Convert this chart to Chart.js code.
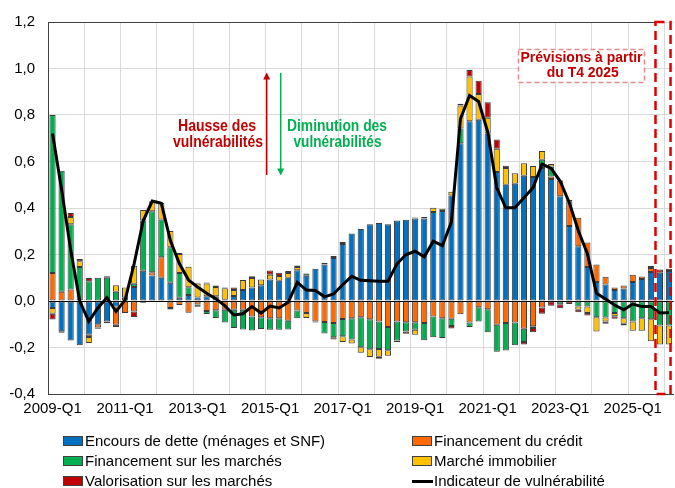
<!DOCTYPE html>
<html lang="fr">
<head>
<meta charset="utf-8">
<script src="https://cdn.jsdelivr.net/npm/chart.js@4.4.1/dist/chart.umd.min.js"></script>
<style>
  body { margin: 0; background: #fff; }
  #wrap { position: relative; width: 675px; height: 488px; font-family: 'Liberation Sans', Arial, sans-serif; }
  #chart { position: absolute; left: 0; top: 0; }
  .leg { position: absolute; font-size: 15px; color: #000; white-space: nowrap; line-height: 18px; }
  .leg .box { position: absolute; left: -22px; top: 4px; width: 18px; height: 8px; border: 1px solid #404040; }
  .leg .ln { position: absolute; left: -22px; top: 8px; width: 21px; height: 3px; background: #000; }
</style>
</head>
<body>
<div id="wrap">
  <canvas id="chart" width="675" height="488"></canvas>
  <div class="leg" style="left:85px;top:432px"><span class="box" style="background:#0070c0"></span>Encours de dette (ménages et SNF)</div>
  <div class="leg" style="left:434px;top:432px"><span class="box" style="background:#ff6a00"></span>Financement du crédit</div>
  <div class="leg" style="left:85px;top:452px"><span class="box" style="background:#00b050"></span>Financement sur les marchés</div>
  <div class="leg" style="left:434px;top:452px"><span class="box" style="background:#ffc000"></span>Marché immobilier</div>
  <div class="leg" style="left:85px;top:472px"><span class="box" style="background:#c00000"></span>Valorisation sur les marchés</div>
  <div class="leg" style="left:434px;top:472px"><span class="ln"></span>Indicateur de vulnérabilité</div>
</div>
<script>
const quarters = [
  '2009-Q1', '2009-Q2', '2009-Q3', '2009-Q4',
  '2010-Q1', '2010-Q2', '2010-Q3', '2010-Q4',
  '2011-Q1', '2011-Q2', '2011-Q3', '2011-Q4',
  '2012-Q1', '2012-Q2', '2012-Q3', '2012-Q4',
  '2013-Q1', '2013-Q2', '2013-Q3', '2013-Q4',
  '2014-Q1', '2014-Q2', '2014-Q3', '2014-Q4',
  '2015-Q1', '2015-Q2', '2015-Q3', '2015-Q4',
  '2016-Q1', '2016-Q2', '2016-Q3', '2016-Q4',
  '2017-Q1', '2017-Q2', '2017-Q3', '2017-Q4',
  '2018-Q1', '2018-Q2', '2018-Q3', '2018-Q4',
  '2019-Q1', '2019-Q2', '2019-Q3', '2019-Q4',
  '2020-Q1', '2020-Q2', '2020-Q3', '2020-Q4',
  '2021-Q1', '2021-Q2', '2021-Q3', '2021-Q4',
  '2022-Q1', '2022-Q2', '2022-Q3', '2022-Q4',
  '2023-Q1', '2023-Q2', '2023-Q3', '2023-Q4',
  '2024-Q1', '2024-Q2', '2024-Q3', '2024-Q4',
  '2025-Q1', '2025-Q2', '2025-Q3', '2025-Q4',
  '2026-Q1'
];

const encours = [
  -0.03, -0.13, -0.17, -0.19, -0.145, -0.10, -0.088, -0.024,
  0, 0.06, 0.13, 0.11, 0.10, 0.078, 0.014, 0.026,
  0.015, 0.02, 0.02, 0.005, 0.021, 0.047, 0.058, 0.068,
  0.092, 0.087, 0.10, 0.132, 0.109, 0.139, 0.157, 0.185,
  0.245, 0.29, 0.31, 0.33, 0.335, 0.33, 0.346, 0.349,
  0.355, 0.355, 0.383, 0.387, 0.454, 0.678, 0.773, 0.78,
  0.72, 0.555, 0.50, 0.504, 0.539, 0.533, 0.572, 0.525,
  0.451, 0.323, 0.235, 0.146, 0.082, 0.071, 0.047, 0.054,
  0.082, 0.095, 0.125, 0.122, 0.129
];

const credit = [
  0.12, 0.04, 0.05, 0, -0.01, -0.014, 0, -0.078,
  -0.052, -0.045, 0, 0.014, 0.088, -0.03, -0.017, -0.05,
  -0.015, -0.043, -0.04, -0.038, -0.038, -0.038, -0.067, -0.07,
  -0.074, -0.074, -0.085, -0.041, -0.052, -0.088, -0.09, -0.095,
  -0.077, -0.074, -0.07, -0.078, -0.088, -0.112, -0.088, -0.091,
  -0.091, -0.095, -0.067, -0.074, -0.076, -0.057, -0.092, -0.027,
  -0.035, -0.102, -0.095, -0.092, -0.119, -0.109, -0.028, 0.011,
  0.067, 0.106, 0.123, 0.106, 0.075, 0.033, 0.011, 0.013,
  0.031, 0.01, 0.017, 0, 0
];

const marches = [
  0.68, 0.52, 0.28, 0.146, 0.085, 0.10, 0.10, 0.04,
  0.014, 0.014, 0.216, 0.262, 0.163, 0.153, 0.106, 0.033,
  -0.01, -0.013, -0.033, -0.054, -0.078, -0.085, -0.06, -0.05,
  -0.05, -0.05, -0.038, -0.033, 0.009, -0.004, -0.05, -0.061,
  -0.075, -0.092, -0.129, -0.13, -0.118, -0.10, -0.082, -0.04,
  -0.033, -0.074, -0.089, -0.085, -0.031, 0.064, -0.02, -0.061,
  -0.099, -0.116, -0.118, -0.098, -0.057, -0.007, 0.035, 0.043,
  -0.014, 0, -0.024, -0.024, -0.07, -0.071, -0.052, -0.074,
  -0.088, -0.074, -0.078, -0.105, -0.105
];

const immobilier = [
  -0.025, 0, 0.031, 0.025, -0.026, 0, 0.006, 0.028,
  0.044, 0.078, 0.045, 0.043, 0.07, 0.07, 0.082, 0.088,
  0.06, 0.055, 0.04, 0.05, 0.026, 0.043, 0.041, 0.024,
  0.021, 0.02, 0.02, 0.014, -0.021, 0, 0, -0.01,
  -0.024, -0.017, -0.024, -0.033, -0.034, -0.024, -0.007, 0,
  -0.021, 0, 0.018, 0.01, 0.016, 0.099, 0.193, 0.11,
  0.068, 0.10, 0.072, 0.045, 0.054, 0.048, 0.038, 0.01,
  0, 0.006, -0.014, -0.028, -0.061, -0.017, -0.014, -0.024,
  -0.04, -0.054, -0.095, -0.082, -0.082
];

const valorisation = [
  -0.025, -0.007, 0.017, 0.01, 0.014, -0.005, -0.007, -0.01,
  0, -0.024, -0.007, 0, 0, -0.007, 0.004, 0,
  0.003, 0.005, 0.007, 0.003, 0.011, 0, 0.007, 0,
  0.018, 0.014, 0.009, 0.007, 0, 0, 0.007, 0.009,
  0.009, 0, 0, 0, -0.008, 0, 0, -0.01,
  0.004, 0.006, 0, 0, -0.011, 0.007, 0.028, 0.057,
  0.067, 0.04, 0.01, 0, -0.011, -0.018, -0.027, -0.02,
  -0.017, -0.013, -0.01, -0.01, 0, -0.01, -0.01, -0.007,
  0, 0, 0.009, 0.013, 0.01
];

const indicateur = [
  0.72, 0.48, 0.22, 0.0, -0.088, -0.03, 0.014, -0.045,
  0.004, 0.16, 0.345, 0.43, 0.42, 0.26, 0.16, 0.09,
  0.06, 0.033, 0.01, -0.02, -0.06, -0.055, -0.024, -0.052,
  -0.022, -0.03, -0.005, 0.08, 0.047, 0.045, 0.018, 0.03,
  0.07, 0.106, 0.089, 0.087, 0.085, 0.085, 0.16, 0.2,
  0.214, 0.19, 0.257, 0.238, 0.34, 0.784, 0.884, 0.858,
  0.728, 0.487, 0.401, 0.401, 0.444, 0.487, 0.589, 0.57,
  0.515, 0.423, 0.302, 0.203, 0.033, 0.009, -0.017, -0.038,
  -0.013, -0.024, -0.024, -0.052, -0.05
];

const forecastStart = 67; // 2025-Q4

Chart.defaults.font.family = "'Liberation Sans', Arial, sans-serif";
Chart.defaults.font.size = 15;
Chart.defaults.color = '#000';

function barSet(label, data, color) {
  return {
    type: 'bar',
    label: label,
    data: data,
    backgroundColor: color,
    borderColor: '#3a3a3a',
    borderWidth: 1,
    borderSkipped: false,
    barPercentage: 0.68,
    categoryPercentage: 1,
    stack: 'comp',
    order: 1
  };
}

// narrow bold text, squeezed to the width it has in the picture
function squeezed(ctx, text, cx, cy, width, color, size) {
  ctx.save();
  ctx.font = 'bold ' + size + "px 'Liberation Sans', Arial, sans-serif";
  ctx.fillStyle = color;
  ctx.textAlign = 'center';
  ctx.textBaseline = 'middle';
  const w = ctx.measureText(text).width;
  ctx.translate(cx, cy);
  ctx.scale(width / w, 1);
  ctx.fillText(text, 0, 0);
  ctx.restore();
}

function arrow(ctx, x, y1, y2, color) {
  const dir = y2 < y1 ? -1 : 1;
  ctx.save();
  ctx.strokeStyle = color;
  ctx.fillStyle = color;
  ctx.lineWidth = 1.5;
  ctx.beginPath();
  ctx.moveTo(x, y1);
  ctx.lineTo(x, y2 - dir * 6);
  ctx.stroke();
  ctx.beginPath();
  ctx.moveTo(x, y2);
  ctx.lineTo(x - 3.5, y2 - dir * 7);
  ctx.lineTo(x + 3.5, y2 - dir * 7);
  ctx.closePath();
  ctx.fill();
  ctx.restore();
}

const decor = {
  id: 'decor',
  afterDraw(chart) {
    const ctx = chart.ctx;
    const area = chart.chartArea;
    const xs = chart.scales.x;
    const step = xs.getPixelForValue(1) - xs.getPixelForValue(0);
    const boxLeft = Math.round(xs.getPixelForValue(forecastStart) - step / 2) + 0.5;

    // plot frame (top edge)
    ctx.save();
    ctx.strokeStyle = '#404040';
    ctx.lineWidth = 1;
    ctx.beginPath();
    ctx.moveTo(area.left, area.top + 0.5);
    ctx.lineTo(boxLeft, area.top + 0.5);
    ctx.stroke();

    // forecast zone
    ctx.strokeStyle = '#dd0000';
    ctx.lineWidth = 2.5;
    ctx.setLineDash([9, 5]);
    ctx.strokeRect(boxLeft, area.top, area.right - 3 - boxLeft, area.bottom - area.top);

    // forecast label box
    ctx.setLineDash([5, 3]);
    ctx.lineWidth = 1.5;
    ctx.strokeStyle = '#e58a8a';
    ctx.fillStyle = '#fff';
    ctx.fillRect(518.5, 49.5, 126, 33);
    ctx.strokeRect(518.5, 49.5, 126, 33);
    ctx.restore();

    squeezed(ctx, 'Prévisions à partir', 581.5, 58, 122, '#c00000', 15);
    squeezed(ctx, 'du T4 2025', 582.8, 73, 72, '#c00000', 15);

    arrow(ctx, 266.7, 175, 72.5, '#c00000');
    arrow(ctx, 280.7, 73, 175.5, '#00b050');

    squeezed(ctx, 'Hausse des', 217, 127, 78, '#c00000', 16);
    squeezed(ctx, 'vulnérabilités', 218, 143, 90, '#c00000', 16);
    squeezed(ctx, 'Diminution des', 337, 127, 100, '#00b050', 16);
    squeezed(ctx, 'vulnérabilités', 337.5, 143, 88, '#00b050', 16);
  }
};

new Chart(document.getElementById('chart'), {
  data: {
    labels: quarters,
    datasets: [
      {
        type: 'line',
        label: 'Indicateur de vulnérabilité',
        data: indicateur,
        borderColor: '#000',
        borderWidth: 3,
        pointRadius: 0,
        tension: 0,
        fill: false,
        stack: 'ind',
        order: 0
      },
      barSet('Encours de dette (ménages et SNF)', encours, '#0070c0'),
      barSet('Financement du crédit', credit, '#ff6a00'),
      barSet('Financement sur les marchés', marches, '#00b050'),
      barSet('Marché immobilier', immobilier, '#ffc000'),
      barSet('Valorisation sur les marchés', valorisation, '#c00000')
    ]
  },
  options: {
    responsive: false,
    animation: false,
    layout: { padding: { top: 19, bottom: 64, left: 0, right: 0 } },
    plugins: {
      legend: { display: false },
      tooltip: { enabled: false }
    },
    scales: {
      x: {
        stacked: true,
        offset: true,
        grid: {
          offset: true,
          drawTicks: false,
          color: (c) => (c.index % 4 === 0 ? '#d9d9d9' : 'rgba(0,0,0,0)')
        },
        border: { display: true, color: '#404040', width: 1 },
        ticks: {
          autoSkip: false,
          maxRotation: 0,
          minRotation: 0,
          padding: 6,
          font: { size: 15 },
          callback: (v, i) => (i % 8 === 0 ? quarters[i] : '')
        },
        afterFit: (s) => { s.height = 30; }
      },
      y: {
        stacked: true,
        min: -0.4,
        max: 1.2,
        grid: {
          drawTicks: false,
          color: (c) => (Math.abs(c.tick.value) < 1e-9 ? '#000' : '#d9d9d9')
        },
        border: { display: true, color: '#404040', width: 1 },
        ticks: {
          stepSize: 0.2,
          padding: 13,
          font: { size: 15 },
          callback: (v) => (Math.abs(v) < 1e-9 ? '0,0' : v.toFixed(1).replace('.', ','))
        },
        afterFit: (s) => { s.width = 48; }
      }
    }
  },
  plugins: [decor]
});
</script>
</body>
</html>
